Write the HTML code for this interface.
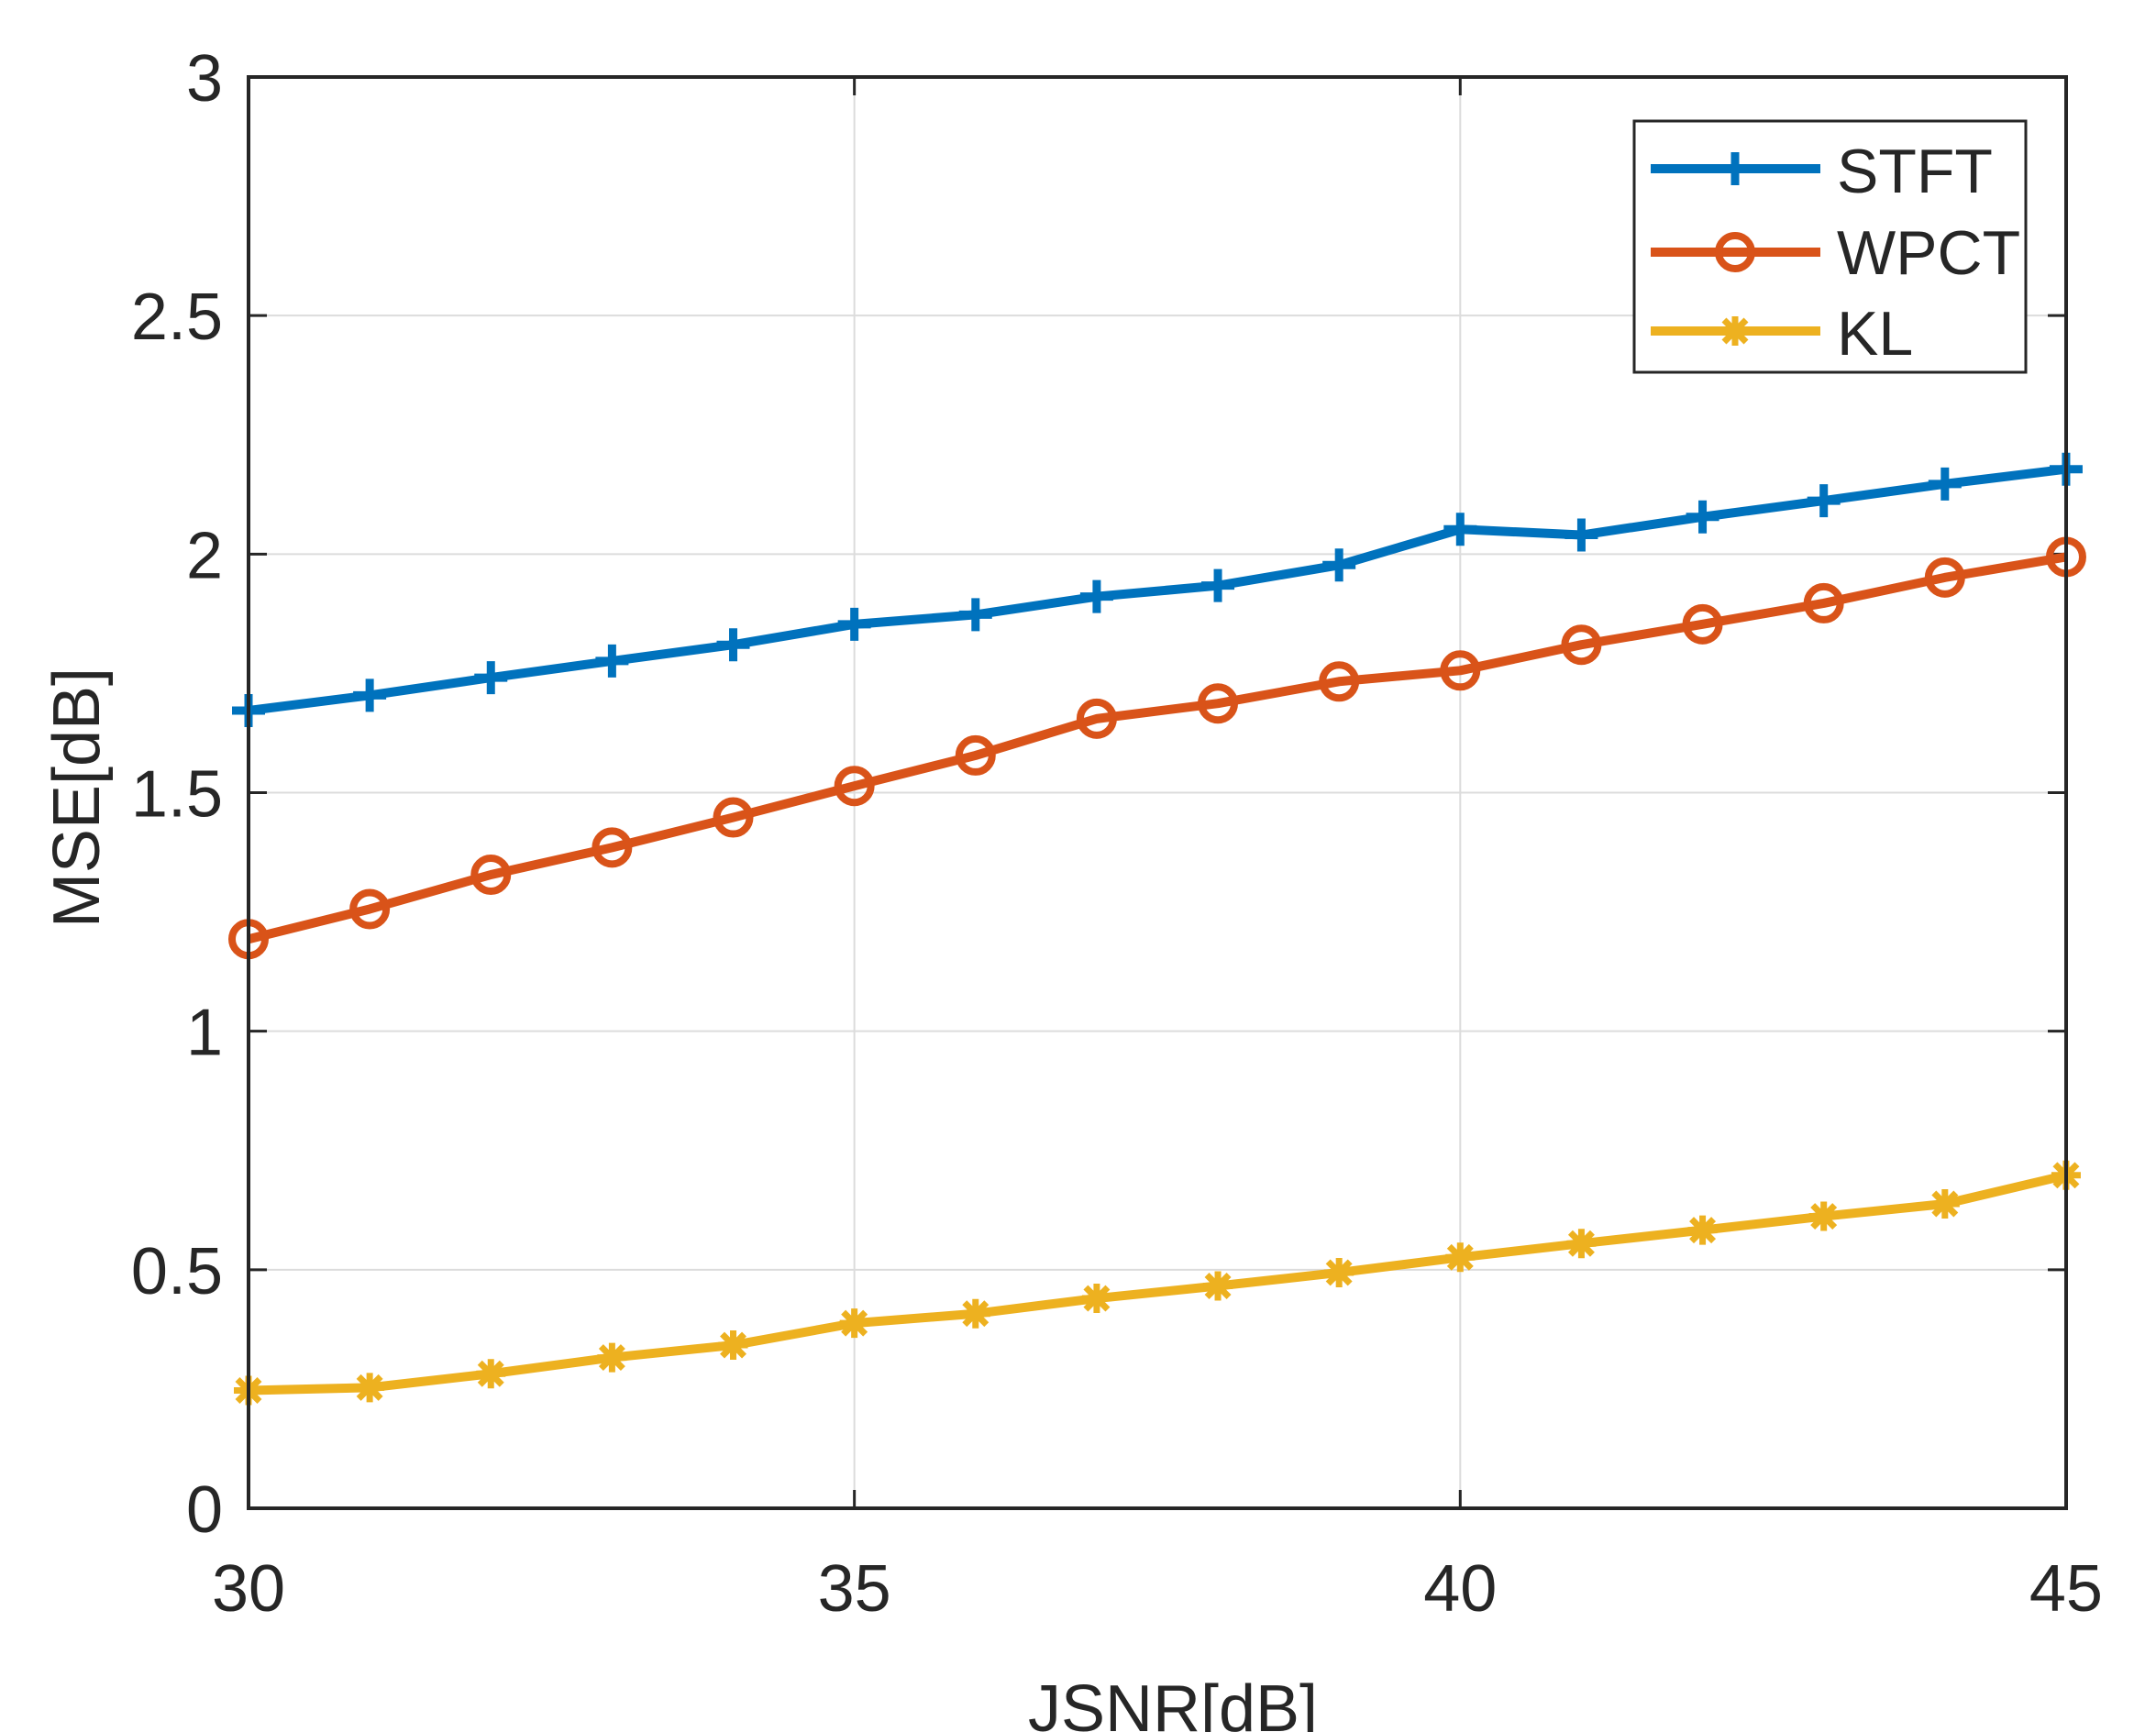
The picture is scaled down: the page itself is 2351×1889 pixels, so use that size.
<!DOCTYPE html>
<html><head><meta charset="utf-8"><style>
html,body{margin:0;padding:0;background:#fff;}
svg{display:block;}
text{font-family:"Liberation Sans",sans-serif;fill:#262626;}
</style></head><body>
<svg id="s" width="2351" height="1889" viewBox="0 0 2351 1889" xmlns="http://www.w3.org/2000/svg">
<rect width="2351" height="1889" fill="#fff"/>
<g id="grid" stroke="#dcdcdc" stroke-width="2"></g>
<g id="ticks" stroke="#262626" stroke-width="3"></g>
<g id="series"></g>
<rect x="271" y="84" width="1982" height="1561" fill="none" stroke="#262626" stroke-width="4"/>
<g id="labels" font-size="72"></g>
<text x="83" y="870" font-size="72" text-anchor="middle" transform="rotate(-90 83 870)" dy="25">MSE[dB]</text>
<text x="1279" y="1888" font-size="72" text-anchor="middle">JSNR[dB]</text>
<rect x="1782" y="132" width="427" height="274" fill="#fff" stroke="#262626" stroke-width="3"/>
<g id="legend"></g>
<text x="2003" y="210" font-size="68">STFT</text>
<text x="2003" y="299" font-size="68">WPCT</text>
<text x="2003" y="387" font-size="68">KL</text>
</svg>
<script>
var NS="http://www.w3.org/2000/svg";
function X(x){return 271+(x-30)*132.13;}
function Y(v){return 1645-v*520.33;}
function el(p,t,a){var e=document.createElementNS(NS,t);for(var k in a)e.setAttribute(k,a[k]);p.appendChild(e);return e;}
var g=document.getElementById('grid'),tk=document.getElementById('ticks'),lb=document.getElementById('labels');
[35,40].forEach(function(x){el(g,'line',{x1:X(x),x2:X(x),y1:84,y2:1645});});
[0.5,1,1.5,2,2.5].forEach(function(v){el(g,'line',{x1:271,x2:2253,y1:Y(v),y2:Y(v)});});
[30,35,40,45].forEach(function(x){el(tk,'line',{x1:X(x),x2:X(x),y1:1645,y2:1625});el(tk,'line',{x1:X(x),x2:X(x),y1:84,y2:104});
 var t=el(lb,'text',{x:X(x),y:1757,'text-anchor':'middle'});t.textContent=x;});
[0,0.5,1,1.5,2,2.5,3].forEach(function(v){el(tk,'line',{x1:271,x2:291,y1:Y(v),y2:Y(v)});el(tk,'line',{x1:2253,x2:2233,y1:Y(v),y2:Y(v)});
 var t=el(lb,'text',{x:243,y:Y(v)+26,'text-anchor':'end'});t.textContent=(v==0?'0':String(v));});
var S=[1.672,1.704,1.741,1.776,1.81,1.853,1.873,1.911,1.934,1.977,2.052,2.04,2.078,2.112,2.147,2.178];
var W=[1.193,1.256,1.328,1.385,1.448,1.514,1.578,1.655,1.687,1.733,1.756,1.81,1.853,1.897,1.951,1.994];
var K=[0.247,0.253,0.282,0.316,0.342,0.388,0.408,0.44,0.466,0.494,0.526,0.555,0.583,0.612,0.638,0.698];
var sg=document.getElementById('series');
function mk(p,type,x,y,c){
 if(type=='+'){el(p,'path',{d:'M'+(x-18)+' '+y+'H'+(x+18)+'M'+x+' '+(y-18)+'V'+(y+18),stroke:c,'stroke-width':9,fill:'none'});}
 else if(type=='o'){el(p,'circle',{cx:x,cy:y,r:18,stroke:c,'stroke-width':8,fill:'none'});}
 else {el(p,'path',{d:'M'+(x-12)+' '+(y-12)+'L'+(x+12)+' '+(y+12)+'M'+(x-12)+' '+(y+12)+'L'+(x+12)+' '+(y-12)+'M'+(x-16)+' '+y+'H'+(x+16)+'M'+x+' '+(y-16)+'V'+(y+16),stroke:c,'stroke-width':7,fill:'none'});}
}
function ser(d,c,type){
 var p='';d.forEach(function(v,i){p+=(i?'L':'M')+X(30+i)+' '+Y(v);});
 el(sg,'path',{d:p,stroke:c,'stroke-width':10,fill:'none','stroke-linejoin':'round'});
 d.forEach(function(v,i){mk(sg,type,X(30+i),Y(v),c);});
}
ser(S,'#0072BD','+');ser(W,'#D95319','o');ser(K,'#EDB120','*');
var lg=document.getElementById('legend');
[[184,'#0072BD','+'],[275,'#D95319','o'],[361,'#EDB120','*']].forEach(function(a){
 el(lg,'line',{x1:1800,x2:1985,y1:a[0],y2:a[0],stroke:a[1],'stroke-width':10});mk(lg,a[2],1892,a[0],a[1]);});
</script>
</body></html>
